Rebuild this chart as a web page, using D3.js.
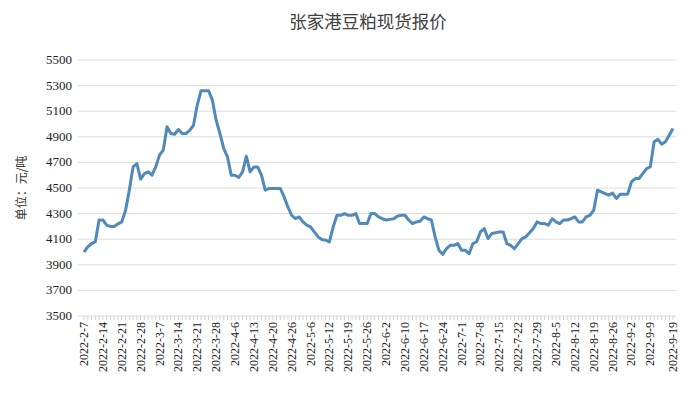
<!DOCTYPE html>
<html><head><meta charset="utf-8">
<script src="https://cdn.jsdelivr.net/npm/d3@7"></script>
<style>body{margin:0;background:#fff;font-family:"Liberation Serif","DejaVu Serif",serif;}</style>
</head><body>
<svg width="686" height="404"></svg>
<script>
const dateLabels = ["2022-2-7","2022-2-14","2022-2-21","2022-2-28","2022-3-7","2022-3-14","2022-3-21","2022-3-28",
  "2022-4-6","2022-4-13","2022-4-20","2022-4-26","2022-5-6","2022-5-12","2022-5-19","2022-5-26","2022-6-2",
  "2022-6-10","2022-6-17","2022-6-24","2022-7-1","2022-7-8","2022-7-15","2022-7-22","2022-7-29","2022-8-5",
  "2022-8-12","2022-8-19","2022-8-26","2022-9-2","2022-9-9","2022-9-19"];

// daily price, yuan/ton
const prices = [4000,4040,4066,4080,4250,4250,4210,4200,4200,4220,4235,4325,4483,4665,4690,4570,4613,4626,4600,4665,
  4757,4796,4978,4926,4920,4957,4926,4926,4950,4990,5148,5260,5260,5260,5187,5030,4926,4809,4743,4600,
  4600,4582,4626,4748,4626,4665,4665,4600,4483,4496,4496,4496,4496,4430,4352,4287,4260,4274,4235,4210,
  4196,4157,4118,4097,4092,4079,4196,4287,4287,4300,4287,4287,4300,4222,4222,4222,4300,4300,4274,4260,
  4250,4255,4260,4280,4287,4287,4250,4222,4235,4240,4274,4260,4250,4118,4013,3982,4026,4052,4052,4066,
  4013,4013,3987,4066,4080,4157,4183,4105,4144,4150,4157,4157,4066,4052,4026,4066,4105,4118,4150,4183,
  4235,4222,4222,4210,4260,4235,4222,4250,4250,4260,4274,4235,4235,4274,4287,4326,4483,4470,4457,4444,
  4460,4418,4452,4452,4452,4548,4574,4574,4613,4652,4665,4861,4880,4843,4861,4913,4965];

const yTicks = d3.range(3500, 5501, 200);

const svg = d3.select("svg");
const x = d3.scaleLinear().domain([0, prices.length - 1]).range([84, 673]);
const y = d3.scaleLinear().domain([3500, 5500]).range([316, 60]);

// title
svg.append("text").attr("x", 368).attr("y", 28).attr("text-anchor", "middle")
  .attr("font-family", "Noto Sans CJK SC").attr("font-size", 17.5).attr("fill", "#404040")
  .text("张家港豆粕现货报价");

// y label
svg.append("text").attr("transform", "translate(26,188) rotate(-90)").attr("text-anchor", "middle")
  .attr("font-family", "Noto Sans CJK SC").attr("font-size", 12).attr("fill", "#333")
  .text("单位：元/吨");

// grid + y axis labels
svg.append("g").selectAll("line").data(yTicks).join("line")
  .attr("x1", 78).attr("x2", 676).attr("y1", d => y(d)).attr("y2", d => y(d))
  .attr("stroke", "#dcdcdc").attr("stroke-width", 1);
svg.append("g").selectAll("text").data(yTicks).join("text")
  .attr("x", 72).attr("y", d => y(d) + 4).attr("text-anchor", "end")
  .attr("font-size", 13).attr("fill", "#222").text(d => d);

// x axis
const labelIdx = dateLabels.map((d, i) => i === dateLabels.length - 1 ? prices.length - 1 : i * 5);
svg.append("g").selectAll("line").data(d3.range(prices.length)).join("line")
  .attr("x1", d => x(d)).attr("x2", d => x(d)).attr("y1", 316).attr("y2", 320)
  .attr("stroke", "#d0d0d0");
svg.append("g").selectAll("text").data(dateLabels).join("text")
  .attr("transform", (d, i) => `translate(${x(labelIdx[i]) + 4},322) rotate(-90)`)
  .attr("text-anchor", "end").attr("font-size", 12).attr("fill", "#222").text(d => d);

// line
svg.append("path").datum(prices)
  .attr("fill", "none").attr("stroke", "#5189b9").attr("stroke-width", 3).attr("stroke-linejoin", "round")
  .attr("d", d3.line().x((d, i) => x(i)).y(d => y(d)));
</script>
</body></html>
